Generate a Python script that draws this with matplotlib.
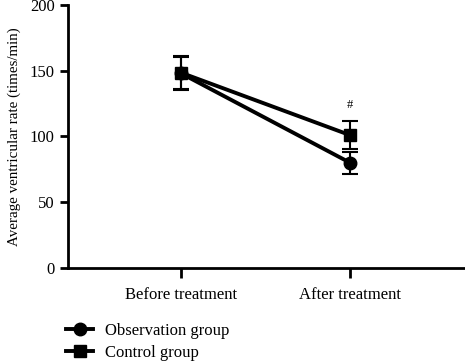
import matplotlib
matplotlib.use("Agg")
import matplotlib.pyplot as plt
from matplotlib.lines import Line2D

categories = ["Before treatment", "After treatment"]
obs_mean = [148, 80]
obs_err = [12.5, 8.5]
ctrl_mean = [148.5, 101]
ctrl_err = [12.5, 10.5]
y_ticks = [0, 50, 100, 150, 200]
annot_label = "#"
annot_value = 124

plt.rcParams['font.family'] = ['Liberation Serif', 'DejaVu Serif']

fig = plt.figure(figsize=(4.65, 3.62), dpi=100)
ax = fig.add_axes([0.146, 0.26, 0.854, 0.726])

x = list(range(len(categories)))
ax.errorbar(x, obs_mean, yerr=obs_err, color='black', lw=2.8, marker='o', ms=9,
            capsize=5.5, capthick=1.5, elinewidth=1.5, label='Observation group')
ax.errorbar(x, ctrl_mean, yerr=ctrl_err, color='black', lw=2.8, marker='s', ms=9,
            capsize=5.5, capthick=1.5, elinewidth=1.5, label='Control group')
ax.text(x[1], annot_value, annot_label, ha='center', va='center', fontsize=9)

ax.set_xlim(-0.67, 1.68)
ax.set_ylim(0, 200)
ax.set_yticks(y_ticks)
ax.set_xticks(x)
ax.set_xticklabels(categories, fontsize=12)
ax.tick_params(axis='y', labelsize=12, width=2, length=6)
ax.tick_params(axis='x', width=2, length=7, pad=7)
ax.set_ylabel("Average ventricular rate (times/min)", fontsize=10.8, labelpad=6)
for s in ['top', 'right']:
    ax.spines[s].set_visible(False)
for s in ['left', 'bottom']:
    ax.spines[s].set_linewidth(2)

handles = [Line2D([], [], color='black', lw=2.8, marker='o', ms=9),
           Line2D([], [], color='black', lw=2.8, marker='s', ms=9)]
fig.legend(handles, ['Observation group', 'Control group'], loc='upper left',
           bbox_to_anchor=(0.125, 0.132), frameon=False, fontsize=12,
           handlelength=1.6, handletextpad=0.7, labelspacing=0.4, borderpad=0)

fig.savefig("out.png", dpi=100)
